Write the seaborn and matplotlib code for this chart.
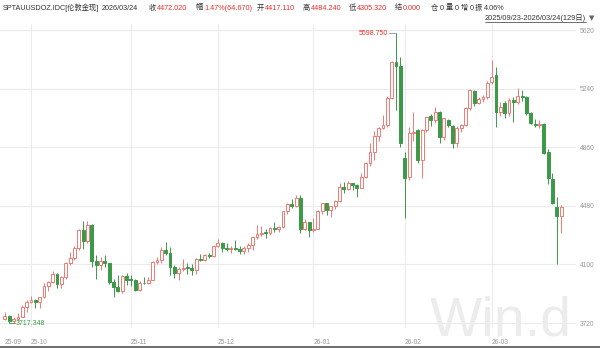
import matplotlib
matplotlib.use("Agg")
import matplotlib.pyplot as plt
import seaborn as sns
import numpy as np
import pandas as pd
from matplotlib.lines import Line2D

sns.set_theme(style="white")
plt.rcParams['font.family'] = ['Liberation Sans', 'Noto Sans CJK SC', 'DejaVu Sans']

# ---------------- data ----------------
dates = pd.bdate_range("2025-09-23", "2026-03-24")
dates = dates[~dates.isin(pd.to_datetime(["2025-12-25", "2026-01-01"]))]

open_ = [3746, 3764, 3736, 3749, 3760, 3826,
         3858, 3866, 3857, 3886, 3960, 3984, 4040, 3975, 4017, 4110, 4142, 4208, 4326, 4250,
         4356, 4125, 4095, 4125, 4112, 3987, 3952, 3930, 4025,
         4002, 4000, 3932, 3980, 3977, 4000, 4115, 4128, 4195, 4172, 4084, 4045, 4067, 4081,
         4077, 4065, 4135, 4131, 4164, 4155,
         4218, 4240, 4206, 4199, 4207, 4197, 4189, 4208, 4228, 4279, 4300, 4305, 4303, 4338,
         4332, 4340, 4445, 4490, 4480, 4532, 4332, 4372,
         4320, 4330, 4448, 4495, 4455, 4478, 4510, 4600, 4590, 4625, 4615, 4595, 4670, 4760,
         4830, 4935, 4985, 5005, 5180, 5410, 5385,
         4790, 4666, 4951, 4971, 4776, 4971, 5061, 5035, 5087, 4925, 5035, 4997, 4886, 4984,
         5003, 5113, 5223, 5145, 5172, 5185,
         5282, 5327, 5087, 5145, 5080, 5165, 5152, 5195, 5185, 5080, 5010, 5005, 5008, 4828,
         4653, 4472, 4417.11]
high = [3791, 3769, 3761, 3782, 3834, 3872,
        3895, 3875, 3890, 3977, 3990, 4059, 4045, 4022, 4117, 4179, 4218, 4330, 4380, 4381,
        4362, 4161, 4146, 4160, 4112, 4005, 4030, 4033, 4046,
        4030, 4004, 3995, 4020, 4020, 4123, 4149, 4211, 4245, 4211, 4097, 4085, 4132, 4109,
        4100, 4140, 4165, 4170, 4172, 4225,
        4264, 4245, 4240, 4219, 4259, 4218, 4218, 4240, 4285, 4353, 4350, 4330, 4342, 4374,
        4350, 4446, 4497, 4526, 4550, 4550, 4393, 4378,
        4402, 4450, 4500, 4500, 4480, 4515, 4630, 4634, 4643, 4630, 4620, 4690, 4765, 4888,
        4965, 4990, 5070, 5190, 5420, 5598.75, 5445,
        4830, 4990, 5090, 4980, 4975, 5060, 5075, 5120, 5095, 5050, 5040, 5005, 4995, 5010,
        5120, 5240, 5230, 5185, 5200, 5290,
        5424, 5379, 5150, 5160, 5180, 5185, 5243, 5230, 5195, 5090, 5040, 5035, 5015, 4850,
        4690, 4536, 4484.24]
low = [3737, 3717.348, 3722, 3736, 3758, 3793,
       3852, 3820, 3815, 3884, 3930, 3981, 3945, 3945, 4005, 4095, 4127, 4195, 4200, 4236,
       4082, 4004, 4061, 4080, 3970, 3886, 3920, 3916, 3968,
       3962, 3929, 3930, 3970, 3970, 3996, 4102, 4110, 4160, 4032, 4011, 4000, 4060, 4040,
       4030, 4040, 4122, 4125, 4143, 4150,
       4210, 4180, 4188, 4175, 4196, 4168, 4170, 4180, 4196, 4265, 4285, 4272, 4290, 4310,
       4310, 4338, 4430, 4465, 4475, 4303, 4320, 4275,
       4310, 4330, 4425, 4420, 4410, 4460, 4505, 4560, 4585, 4580, 4540, 4595, 4660, 4740,
       4775, 4900, 4975, 4990, 5170, 5100, 4860,
       4402, 4650, 4900, 4760, 4660, 4960, 5000, 5020, 4886, 4905, 4990, 4854, 4860, 4960,
       4995, 5100, 5130, 5140, 5150, 5170,
       5270, 4990, 5060, 5050, 5060, 5022, 5140, 5160, 5070, 5010, 4990, 4985, 4815, 4620,
       4490, 4100, 4305.32]
close = [3764, 3736, 3749, 3760, 3826, 3858,
         3866, 3857, 3886, 3960, 3984, 4040, 3975, 4017, 4110, 4142, 4208, 4326, 4250, 4356,
         4125, 4095, 4125, 4112, 3987, 3952, 3930, 4025, 4002,
         4000, 3932, 3980, 3977, 4000, 4115, 4128, 4195, 4172, 4084, 4045, 4067, 4077, 4077,
         4065, 4135, 4131, 4164, 4155, 4218,
         4240, 4206, 4199, 4207, 4197, 4189, 4208, 4228, 4279, 4300, 4305, 4303, 4338, 4332,
         4340, 4445, 4490, 4480, 4532, 4332, 4372, 4320,
         4330, 4448, 4495, 4455, 4478, 4510, 4600, 4590, 4625, 4615, 4595, 4670, 4760, 4830,
         4935, 4985, 5005, 5180, 5410, 5385, 4890,
         4660, 4951, 4960, 4776, 4971, 5055, 5035, 5087, 4925, 5048, 5003, 4886, 4984, 5003,
         5113, 5230, 5145, 5172, 5185, 5275,
         5314, 5087, 5120, 5080, 5165, 5152, 5195, 5185, 5080, 5016, 5005, 5008, 4822, 4660,
         4498, 4413, 4472.02]

y_ticks = [3720, 4100, 4480, 4860, 5240, 5620]
hi_label = "5598.750"
lo_label = "3717.348"

header_items = [
    ("SPTAUUSDOZ.IDC[伦敦金现]", "d"), ("2026/03/24", "d"),
    ("收", "d"), ("4472.020", "r"), ("幅", "d"), ("1.47%(64.670)", "r"),
    ("开", "d"), ("4417.110", "r"), ("高", "d"), ("4484.240", "r"),
    ("低", "d"), ("4305.320", "r"), ("结", "d"), ("0.000", "r"),
    ("仓", "d"), ("0", "d"), ("量", "d"), ("0", "d"), ("增", "d"), ("0", "d"),
    ("振", "d"), ("4.06%", "d"),
]
header_x = [3, 102, 149, 157, 196, 204, 257, 265, 303, 311, 349, 357, 395, 403,
            431, 440, 446, 455, 461, 470, 475, 484]
range_text = "2025/09/23-2026/03/24(129日)"

# ---------------- style ----------------
UP = "#f07a74"
DOWN = "#3a9a48"
RED_TXT = "#e8302a"
DARK = "#333333"
GRID = "#ebebeb"
W, H = 600, 348

df = pd.DataFrame({"date": dates, "open": open_, "high": high, "low": low, "close": close})
df["x"] = np.arange(len(df))
df["up"] = df["close"] >= df["open"]

fig = plt.figure(figsize=(W / 100, H / 100), dpi=100)
top_px, bot_px, right_px = 24, 328, 576
ax = fig.add_axes([0, 1 - bot_px / H, right_px / W, (bot_px - top_px) / H])

# watermark
fig.text(430 / W, 1 - 336 / H, "Win.d", fontsize=40, color="#ececec",
         family=["Liberation Sans"], ha="left", va="baseline", zorder=0)
ax.patch.set_alpha(0)

# axes scales
px_per_idx = 4.346
x0 = 4.9
ax.set_xlim(-x0 / px_per_idx, (right_px - x0) / px_per_idx)
ppu = 6.485
ax.set_ylim(3720 - (bot_px - 323) * ppu, 3720 + (323 - top_px) * ppu)

# grid
for v in y_ticks:
    ax.axhline(v, color=GRID, lw=0.8, zorder=0)
month_start = df.groupby(df["date"].dt.to_period("M"))["x"].min()
labels = [p.strftime("%y-%m") for p in month_start.index]
for xi in month_start.values[1:]:
    ax.axvline(xi, color=GRID, lw=0.8, zorder=0)

# candles
colors = np.where(df["up"], UP, DOWN)
ax.vlines(df["x"], df["low"], df["high"], colors=colors, lw=0.7, zorder=2)
body_bottom = np.minimum(df["open"], df["close"])
body_h = np.maximum(np.abs(df["close"] - df["open"]), 5)
face = np.where(df["up"], "white", DOWN)
ax.bar(df["x"], body_h, bottom=body_bottom, width=0.66, color=face,
       edgecolor=colors, linewidth=0.7, zorder=3)

# hi / lo annotations
ihi = int(df["high"].idxmax())
ilo = int(df["low"].idxmin())
hv = df["high"].max()
lv = df["low"].min()
ax.plot([ihi - 1.7, ihi], [hv, hv], color="#8a9090", lw=0.6, zorder=2)
ax.text(ihi - 1.8, hv, hi_label, color=RED_TXT, fontsize=5, ha="right", va="center")
ax.plot([ilo, ilo + 1.4], [lv, lv], color=DOWN, lw=0.6, zorder=2)
ax.text(ilo + 1.5, lv, lo_label, color=DOWN, fontsize=5, ha="left", va="center")

# ticks
ax.set_yticks(y_ticks)
ax.set_yticklabels([str(v) for v in y_ticks])
ax.yaxis.tick_right()
ax.tick_params(axis="y", length=0, pad=3, labelsize=4.8, labelcolor="#999999")
ax.set_xticks(month_start.values)
ax.set_xticklabels(labels, ha="left")
ax.tick_params(axis="x", length=0, pad=8, labelsize=4.8, labelcolor="#999999")
for s in ax.spines.values():
    s.set_visible(False)
ax.grid(False)

# header
for (txt, c), xp in zip(header_items, header_x):
    fig.text(xp / W, 1 - 8 / H, txt, fontsize=5.2, color=RED_TXT if c == "r" else DARK,
             ha="left", va="center")
rt = fig.text(586 / W, 1 - 18 / H, range_text, fontsize=5.3, color=DARK, ha="right", va="center")
fig.text(589 / W, 1 - 18 / H, "▼", fontsize=5, color="#666666", ha="left", va="center",
         family=["DejaVu Sans"])
fig.canvas.draw()
bb = rt.get_window_extent()
fig.add_artist(Line2D([bb.x0 / W, bb.x1 / W], [(bb.y0 - 0.5) / H] * 2,
                      color=DARK, lw=0.5, transform=fig.transFigure))
fig.add_artist(Line2D([0, 1], [0.8 / H] * 2, color="#555555", lw=1.2, transform=fig.transFigure))

fig.savefig("out.png", dpi=100)
